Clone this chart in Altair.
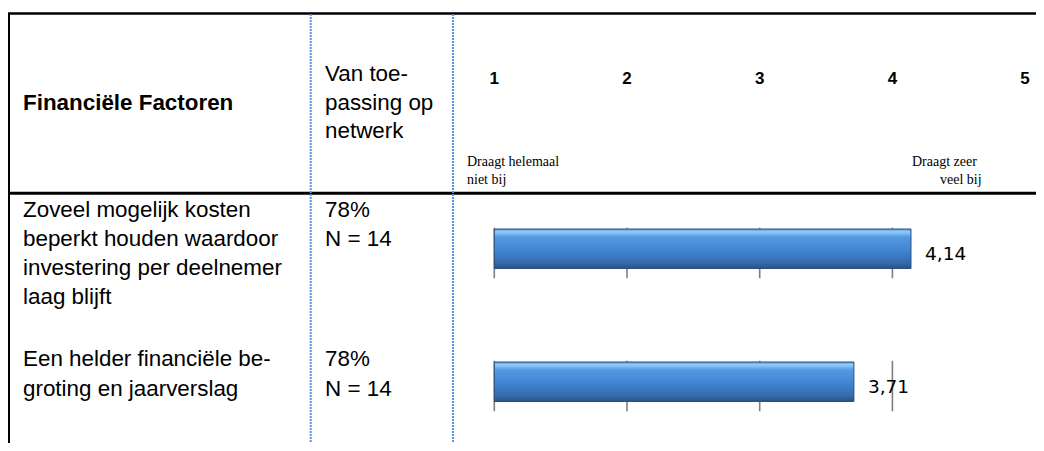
import altair as alt
import pandas as pd

# ---- data ----
factors = [
    "Zoveel mogelijk kosten\nbeperkt houden waardoor\ninvestering per deelnemer\nlaag blijft",
    "Een helder financiële be-\ngroting en jaarverslag",
]
applicability = ["78%", "78%"]
n_respondents = [14, 14]
scores = [4.14, 3.71]
scale_points = [1, 2, 3, 4, 5]
grid_points = [1, 2, 3, 4]
header_factor = "Financiële Factoren"
header_applicability = "Van toe-\npassing op\nnetwerk"
low_anchor = "Draagt helemaal\nniet bij"
high_anchor_1 = "Draagt zeer"
high_anchor_2 = "veel bij"

rows = pd.DataFrame({
    "row": list(range(len(factors))),
    "factor": factors,
    "app": [f"{p}\nN = {n}" for p, n in zip(applicability, n_respondents)],
    "score": scores,
    "label": [f"{s:.2f}".replace(".", ",") for s in scores],
    "start": [scale_points[0]] * len(factors),
})
grid = pd.DataFrame([{"row": r, "g": g} for r in rows["row"] for g in grid_points])
scale_df = pd.DataFrame({"p": scale_points})
one = pd.DataFrame({"k": [0]})

W, H = 1028, 435
ROW_PX = 133.0

X = alt.Scale(domain=[1, 5], range=[486.3, 1017.1], nice=False, zero=False)
YB = alt.Scale(domain=[0, 1], range=[240.75, 373.75], nice=False, zero=False)
YT = alt.Scale(domain=[0, 1], range=[208.5, 358.3], nice=False, zero=False)

SANS = "Liberation Sans"
FS = 22.4

# ---- table structure ----
top_line = alt.Chart(one).mark_rule(color="black", strokeWidth=2.5).encode(
    x=alt.value(0), x2=alt.value(W), y=alt.value(5.5))
head_line = alt.Chart(one).mark_rule(color="black", strokeWidth=3).encode(
    x=alt.value(0), x2=alt.value(W), y=alt.value(185.3))
left_line = alt.Chart(one).mark_rule(color="black", strokeWidth=2).encode(
    x=alt.value(1), y=alt.value(5), y2=alt.value(H))
dot1 = alt.Chart(one).mark_rule(color="#5b93dd", strokeWidth=2, strokeDash=[2, 1]).encode(
    x=alt.value(302.7), y=alt.value(6), y2=alt.value(H))
dot2 = alt.Chart(one).mark_rule(color="#5b93dd", strokeWidth=2, strokeDash=[2, 1]).encode(
    x=alt.value(445), y=alt.value(6), y2=alt.value(H))

# ---- headers ----
h_factor = alt.Chart(one).mark_text(
    align="left", baseline="alphabetic", font=SANS, fontSize=FS, fontWeight="bold", color="black"
).encode(x=alt.value(15), y=alt.value(102), text=alt.value(header_factor))
h_app = alt.Chart(one).mark_text(
    align="left", baseline="alphabetic", font=SANS, fontSize=FS, color="black",
    lineBreak="\n", lineHeight=28.5
).encode(x=alt.value(317), y=alt.value(73), text=alt.value(header_applicability))
scale_nums = alt.Chart(scale_df).mark_text(
    align="center", baseline="middle", font=SANS, fontSize=17, fontWeight="bold", color="black"
).encode(x=alt.X("p:Q", scale=X, axis=None), y=alt.value(71), text="p:Q")
low_txt = alt.Chart(one).mark_text(
    align="left", baseline="alphabetic", font="Liberation Serif", fontSize=14, color="black",
    lineBreak="\n", lineHeight=18
).encode(x=alt.value(459), y=alt.value(157.7), text=alt.value(low_anchor))
high_txt1 = alt.Chart(one).mark_text(
    align="left", baseline="alphabetic", font="Liberation Serif", fontSize=14, color="black"
).encode(x=alt.value(904), y=alt.value(157.7), text=alt.value(high_anchor_1))
high_txt2 = alt.Chart(one).mark_text(
    align="left", baseline="alphabetic", font="Liberation Serif", fontSize=14, color="black"
).encode(x=alt.value(932), y=alt.value(175.7), text=alt.value(high_anchor_2))

# ---- row texts ----
factor_txt = alt.Chart(rows).mark_text(
    align="left", baseline="alphabetic", font=SANS, fontSize=FS, color="black",
    lineBreak="\n", lineHeight=29.3
).encode(x=alt.value(15), y=alt.Y("row:Q", scale=YT, axis=None), text="factor:N")
app_txt = alt.Chart(rows).mark_text(
    align="left", baseline="alphabetic", font=SANS, fontSize=FS, color="black",
    lineBreak="\n", lineHeight=29.3
).encode(x=alt.value(317), y=alt.Y("row:Q", scale=YT, axis=None), text="app:N")

# ---- bar chart ----
gridrules = alt.Chart(grid).transform_calculate(
    y1=f"datum.row - 21/{ROW_PX}", y2=f"datum.row + 29.5/{ROW_PX}"
).mark_rule(color="#7f7f7f", strokeWidth=1.6).encode(
    x=alt.X("g:Q", scale=X, axis=None),
    y=alt.Y("y1:Q", scale=YB, axis=None),
    y2="y2:Q",
)

grad = alt.LinearGradient(
    gradient="linear", x1=0, x2=0, y1=0, y2=1,
    stops=[
        alt.GradientStop(offset=0.0, color="#5598de"),
        alt.GradientStop(offset=0.07, color="#92ccf8"),
        alt.GradientStop(offset=0.2, color="#549ae2"),
        alt.GradientStop(offset=0.55, color="#4084d0"),
        alt.GradientStop(offset=0.85, color="#356bad"),
        alt.GradientStop(offset=1.0, color="#2a5286"),
    ],
)
bars = alt.Chart(rows).transform_calculate(
    y1=f"datum.row - 19.75/{ROW_PX}", y2=f"datum.row + 19.75/{ROW_PX}"
).mark_rect(fill=grad, stroke="#2a4f7f", strokeWidth=1).encode(
    x=alt.X("start:Q", scale=X, axis=None),
    x2="score:Q",
    y=alt.Y("y1:Q", scale=YB, axis=None),
    y2="y2:Q",
)
values = alt.Chart(rows).mark_text(
    align="left", baseline="middle", dx=14, dy=5, font="DejaVu Sans", fontSize=18.5, color="black"
).encode(
    x=alt.X("score:Q", scale=X, axis=None),
    y=alt.Y("row:Q", scale=YB, axis=None),
    text="label:N",
)

chart = alt.layer(
    top_line, head_line, left_line, dot1, dot2,
    h_factor, h_app, scale_nums, low_txt, high_txt1, high_txt2,
    factor_txt, app_txt,
    gridrules, bars, values,
).resolve_scale(y="independent").properties(
    width=W, height=H, padding=0, autosize="none", background="white"
).configure_view(stroke=None)

chart.save("out.html", embed_options={"renderer": "svg", "actions": False})
